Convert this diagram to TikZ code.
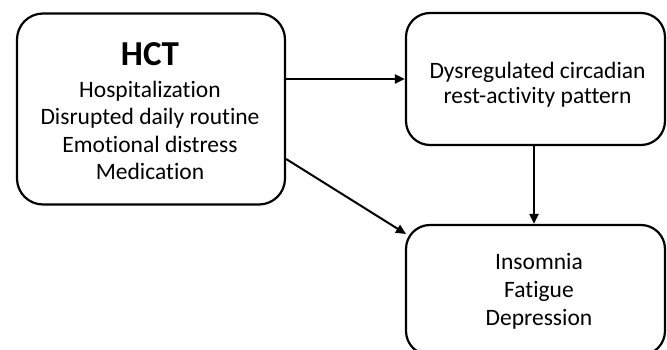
\documentclass[tikz,border=0pt]{standalone}
\usepackage{fontspec}
\setmainfont{Carlito}[Ligatures=NoCommon]
\usetikzlibrary{arrows.meta}
\begin{document}
\begin{tikzpicture}[x=1pt,y=-1pt,
  box/.style={draw, line width=2.2pt, rounded corners=26pt, inner sep=0pt},
  txt/.style={align=center, inner sep=0pt, anchor=base, font=\fontsize{23.5}{27.6}\selectfont},
  arr/.style={line width=2pt, -{Triangle[length=10pt,width=9pt]}}]
\useasboundingbox (0,0) rectangle (667,350);
\node[box, minimum width=268pt, minimum height=191pt] (hct) at (151,109) {};
\node[txt] (hcttext) at (150,180)
  {{\fontsize{35}{36}\selectfont\bfseries HCT}\\[4.4pt]Hospitalization\\Disrupted daily routine\\Emotional distress\\Medication};
\node[box, minimum width=259pt, minimum height=132pt, rounded corners=24pt] (dys) at (535.5,79) {};
\node[txt, font=\fontsize{23.5}{25}\selectfont] (dystext) at (537.5,103.3)
  {Dysregulated circadian\\rest-activity pattern};
\node[box, minimum width=259pt, minimum height=130pt, rounded corners=24pt] (out) at (535.5,290) {};
\node[txt] (outtext) at (539,325)
  {Insomnia\\Fatigue\\Depression};
\coordinate (d1) at (0,159);
\coordinate (d2) at (406,234);
\coordinate (v) at (534,0);
\draw[arr] (hct.east |- dys.west) -- (dys.west);
\draw[arr] (v |- dys.south) -- (v |- out.north);
\draw[arr] (hct.east |- d1) -- (d2);
\end{tikzpicture}
\end{document}
